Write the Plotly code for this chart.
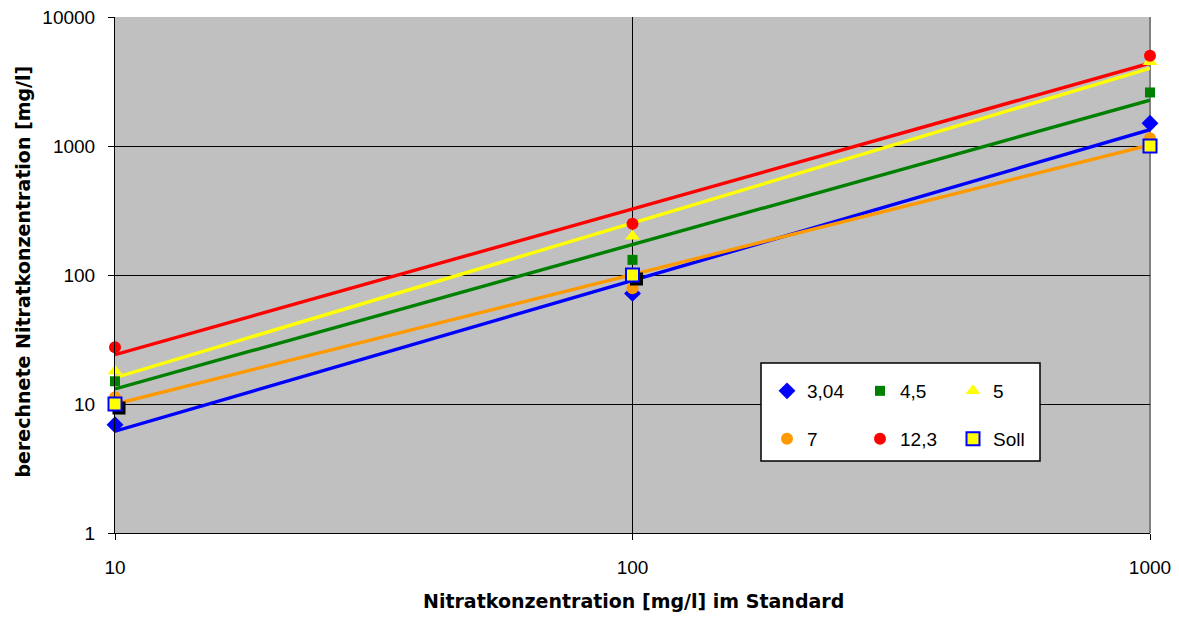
import numpy as np
import plotly.graph_objects as go

# ---- data ----
x_std = [10, 100, 1000]
s_304 = [6.9, 72, 1500]
s_45 = [15, 131, 2600]
s_5 = [18, 200, 4500]
s_7 = [11.3, 79, 1150]
s_123 = [27.5, 250, 5000]
s_soll = [10, 100, 1000]

y_ticks = [1, 10, 100, 1000, 10000]
x_ticks = [10, 100, 1000]

series = [
    ("3,04", s_304, "#0000FF", "diamond", 13, "legend"),
    ("4,5", s_45, "#008000", "square", 10, "legend"),
    ("5", s_5, "#FFFF00", "triangle-up", 13, "legend"),
    ("7", s_7, "#FF9900", "circle", 12, "legend2"),
    ("12,3", s_123, "#FF0000", "circle", 12, "legend2"),
]

FONT = "Liberation Sans, Arial, sans-serif"
TFONT = "DejaVu Sans, Liberation Sans, Arial, sans-serif"
W, H = 1179, 617
L, R, T, B = 115, 29, 17, 84
PW, PH = W - L - R, H - T - B

fig = go.Figure()

# power trend lines (least squares in log space, like Excel's power trendline)
lx = np.log10(x_std)
xs_line = np.logspace(1, 3, 60)
for name, ys, col, sym, sz, lg in series:
    k, d = np.polyfit(lx, np.log10(ys), 1)
    fig.add_trace(go.Scatter(x=xs_line, y=10 ** (d + k * np.log10(xs_line)), mode="lines",
                             line=dict(color=col, width=3.4), showlegend=False,
                             hoverinfo="skip"))

for name, ys, col, sym, sz, lg in series:
    fig.add_trace(go.Scatter(x=x_std, y=ys, mode="markers", name=name, legend=lg,
                             marker=dict(symbol=sym, size=sz, color=col,
                                         line=dict(width=0)),
                             cliponaxis=False))

# shadow for Soll markers (subplot with ranges shifted by ~4 px)
sx = 4 * 2 / PW
sy = 4 * 4 / PH
fig.add_trace(go.Scatter(x=x_std, y=s_soll, mode="markers", showlegend=False,
                         xaxis="x2", yaxis="y2", cliponaxis=False,
                         marker=dict(symbol="square", size=13, color="black",
                                     line=dict(width=0))))
# Soll markers on top
fig.add_trace(go.Scatter(x=x_std, y=s_soll, mode="markers", name="Soll", legend="legend2",
                         xaxis="x3", yaxis="y3", cliponaxis=False,
                         marker=dict(symbol="square", size=13, color="#FFFF00",
                                     line=dict(width=2, color="#0000FF"))))

hidden_x = dict(type="log", visible=False, showgrid=False, fixedrange=True, domain=[0, 1])
hidden_y = dict(type="log", visible=False, showgrid=False, fixedrange=True, domain=[0, 1])

fig.update_layout(
    width=W, height=H,
    margin=dict(l=L, r=R, t=T, b=B, autoexpand=False),
    paper_bgcolor="white",
    plot_bgcolor="rgba(0,0,0,0)",
    font=dict(family=FONT, size=19, color="black"),
    xaxis=dict(type="log", range=[1, 3], tickvals=x_ticks, ticktext=[str(v) for v in x_ticks],
               showgrid=True, gridcolor="black", gridwidth=1,
               showline=True, linecolor="black", linewidth=1,
               ticks="outside", ticklen=6, tickcolor="black",
               ticklabelstandoff=11, domain=[0, 1], automargin=False),
    yaxis=dict(type="log", range=[0, 4], tickvals=y_ticks, ticktext=[str(v) for v in y_ticks],
               showgrid=True, gridcolor="black", gridwidth=1,
               showline=True, linecolor="black", linewidth=1,
               ticks="outside", ticklen=6, tickcolor="black",
               ticklabelstandoff=9, domain=[0, 1], automargin=False),
    xaxis2=dict(hidden_x, range=[1 - sx, 3 - sx], anchor="y2"),
    yaxis2=dict(hidden_y, range=[0 + sy, 4 + sy], anchor="x2"),
    xaxis3=dict(hidden_x, range=[1, 3], anchor="y3"),
    yaxis3=dict(hidden_y, range=[0, 4], anchor="x3"),
    legend=dict(orientation="h", x=(767 - L) / PW, y=(533 - 391) / PH, xanchor="left",
                yanchor="middle", bgcolor="rgba(0,0,0,0)", borderwidth=0,
                entrywidth=48, font=dict(size=19), traceorder="normal"),
    legend2=dict(orientation="h", x=(767 - L) / PW, y=(533 - 439) / PH, xanchor="left",
                 yanchor="middle", bgcolor="rgba(0,0,0,0)", borderwidth=0,
                 entrywidth=48, font=dict(size=19), traceorder="normal"),
    shapes=[
        dict(type="rect", xref="paper", yref="paper", x0=0, x1=1, y0=0, y1=1,
             fillcolor="#C0C0C0", line=dict(width=0), layer="below"),
        dict(type="line", xref="paper", yref="paper", x0=1, x1=1, y0=0, y1=1,
             line=dict(color="#808080", width=2), layer="below"),
        dict(type="rect", xref="paper", yref="paper",
             x0=(761 - L) / PW, x1=(1040 - L) / PW,
             y0=(533 - 461) / PH, y1=(533 - 363) / PH,
             fillcolor="white", line=dict(color="black", width=1.5), layer="above"),
    ],
    annotations=[
        dict(text="<b>Nitratkonzentration [mg/l] im Standard</b>", xref="paper", yref="paper",
             x=(633.5 - L) / PW, y=(533 - 601) / PH, showarrow=False,
             xanchor="center", yanchor="middle", font=dict(size=19, family=TFONT)),
        dict(text="<b>berechnete Nitratkonzentration [mg/l]</b>", xref="paper", yref="paper",
             x=(22 - L) / PW, y=(533 - 271.5) / PH, showarrow=False, textangle=-90,
             xanchor="center", yanchor="middle", font=dict(size=19, family=TFONT)),
    ],
    showlegend=True,
)

fig.write_html("out.html")
